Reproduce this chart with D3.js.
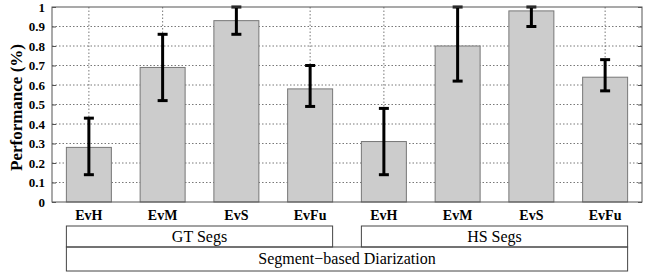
<!DOCTYPE html>
<html>
<head>
<meta charset="utf-8">
<script src="https://cdn.jsdelivr.net/npm/d3@7"></script>
<style>
  body { margin: 0; background: #fff; font-family: 'Liberation Serif'; }
  .preload { position: absolute; left: 0; top: 0; opacity: 0; font-family: 'Liberation Serif'; }
</style>
</head>
<body>
<span class="preload">&nbsp;</span><span class="preload" style="font-weight:bold">&nbsp;</span>
<svg id="chart" font-family="Liberation Serif"></svg>
<script>
// bars, left to right
const categories = ['EvH', 'EvM', 'EvS', 'EvFu', 'EvH', 'EvM', 'EvS', 'EvFu']
const values = [0.28, 0.69, 0.93, 0.58, 0.31, 0.80, 0.98, 0.64]
const errLow = [0.14, 0.52, 0.86, 0.49, 0.14, 0.62, 0.90, 0.57]
const errHigh = [0.43, 0.86, 1.0, 0.70, 0.48, 1.0, 1.0, 0.73]
const yTicks = [0, 0.1, 0.2, 0.3, 0.4, 0.5, 0.6, 0.7, 0.8, 0.9, 1]
const groups = ['GT Segs', 'HS Segs']
const superLabel = 'Segment\u2212based Diarization'

const serif = 'Liberation Serif'

const config = {
    width: 654,
    height: 273,
    margin: {top: 7, right: 12, bottom: 71, left: 52}
}

const width = config.width - config.margin.left - config.margin.right
const height = config.height - config.margin.top - config.margin.bottom

const svg = d3.select('#chart')
    .attr('width', config.width)
    .attr('height', config.height)
    .style('position', 'absolute')
    .style('left', 0)
    .style('top', 0)

const g = svg.append('g')
    .attr('transform', `translate(${config.margin.left}, ${config.margin.top})`)

const idx = categories.map((d, i) => i)

const xScale = d3.scaleBand()
    .domain(idx)
    .range([0, width])
    .paddingInner(0.39)
    .paddingOuter(0.195)

const yScale = d3.scaleLinear()
    .domain([0, 1])
    .range([height, 0])

// grid
g.append('g')
    .selectAll('line')
    .data(yTicks.slice(1, -1))
    .join('line')
    .attr('x1', 0).attr('x2', width)
    .attr('y1', d => yScale(d)).attr('y2', d => yScale(d))
    .attr('stroke', '#555')
    .attr('stroke-width', 0.8)
    .attr('stroke-dasharray', '1.5,2')

g.append('g')
    .selectAll('line')
    .data(idx)
    .join('line')
    .attr('x1', d => xScale(d) + xScale.bandwidth() / 2)
    .attr('x2', d => xScale(d) + xScale.bandwidth() / 2)
    .attr('y1', 0).attr('y2', height)
    .attr('stroke', '#555')
    .attr('stroke-width', 0.8)
    .attr('stroke-dasharray', '1.5,2')

// bars
g.append('g')
    .selectAll('rect')
    .data(idx)
    .join('rect')
    .attr('x', d => xScale(d))
    .attr('y', d => yScale(values[d]))
    .attr('width', xScale.bandwidth())
    .attr('height', d => height - yScale(values[d]))
    .attr('fill', '#cccccc')
    .attr('stroke', '#777')
    .attr('stroke-width', 1)

// error bars
const capW = 5
const errG = g.append('g')
    .attr('stroke', '#000')
    .attr('stroke-width', 3)
idx.forEach(i => {
    const cx = xScale(i) + xScale.bandwidth() / 2
    errG.append('line')
        .attr('x1', cx).attr('x2', cx)
        .attr('y1', yScale(errLow[i])).attr('y2', yScale(errHigh[i]))
    errG.append('line')
        .attr('x1', cx - capW).attr('x2', cx + capW)
        .attr('y1', yScale(errLow[i])).attr('y2', yScale(errLow[i]))
    errG.append('line')
        .attr('x1', cx - capW).attr('x2', cx + capW)
        .attr('y1', yScale(errHigh[i])).attr('y2', yScale(errHigh[i]))
})

// box frame
g.append('rect')
    .attr('width', width).attr('height', height)
    .attr('fill', 'none')
    .attr('stroke', '#555')
    .attr('stroke-width', 1)

// y axis
const yAxis = d3.axisLeft(yScale)
    .tickValues(yTicks)
    .tickFormat(d => d)
    .tickSizeInner(-4)
    .tickSizeOuter(0)
    .tickPadding(7)

const yAxisG = g.append('g').call(yAxis)
    .attr('font-family', serif)
yAxisG.select('.domain').remove()
yAxisG.selectAll('line').attr('stroke', '#555')
yAxisG.selectAll('text')
    .style('font-size', '13px')
    .style('font-weight', 'bold')
    .attr('fill', '#000')

// right ticks
g.append('g')
    .attr('transform', `translate(${width}, 0)`)
    .call(d3.axisRight(yScale).tickValues(yTicks).tickSize(-4).tickFormat(''))
    .call(s => s.select('.domain').remove())
    .selectAll('line').attr('stroke', '#555')

// x axis labels
const xAxis = d3.axisBottom(xScale)
    .tickFormat(d => categories[d])
    .tickSize(0)
    .tickPadding(8)

const xAxisG = g.append('g')
    .attr('transform', `translate(0, ${height})`)
    .call(xAxis)
    .attr('font-family', serif)
xAxisG.select('.domain').remove()
xAxisG.selectAll('text')
    .style('font-size', '14px')
    .style('font-weight', 'bold')
    .attr('fill', '#000')

// y axis title
g.append('text')
    .text('Performance (%)')
    .attr('transform', `translate(-30, ${height / 2 + 3}) rotate(-90)`)
    .style('text-anchor', 'middle')
    .style('font-size', '17px')
    .style('font-weight', 'bold')

// group boxes, spanning the outer edges of their bars
const rowTop = height + 24
const rowH = 21
const rowH2 = 24
const bw = xScale.bandwidth()

const boxes = [
    {label: groups[0], x0: xScale(0), x1: xScale(3) + bw, y: rowTop, h: rowH},
    {label: groups[1], x0: xScale(4), x1: xScale(7) + bw, y: rowTop, h: rowH},
    {label: superLabel, x0: xScale(0), x1: xScale(7) + bw, y: rowTop + rowH, h: rowH2}
]

const boxG = g.append('g')
boxes.forEach(b => {
    boxG.append('rect')
        .attr('x', b.x0).attr('y', b.y)
        .attr('width', b.x1 - b.x0).attr('height', b.h)
        .attr('fill', 'none')
        .attr('stroke', '#444')
        .attr('stroke-width', 1)
    boxG.append('text')
        .text(b.label)
        .attr('x', (b.x0 + b.x1) / 2)
        .attr('y', b.y + b.h / 2 + 5)
        .style('text-anchor', 'middle')
        .style('font-size', '16px')
})
</script>
</body>
</html>
